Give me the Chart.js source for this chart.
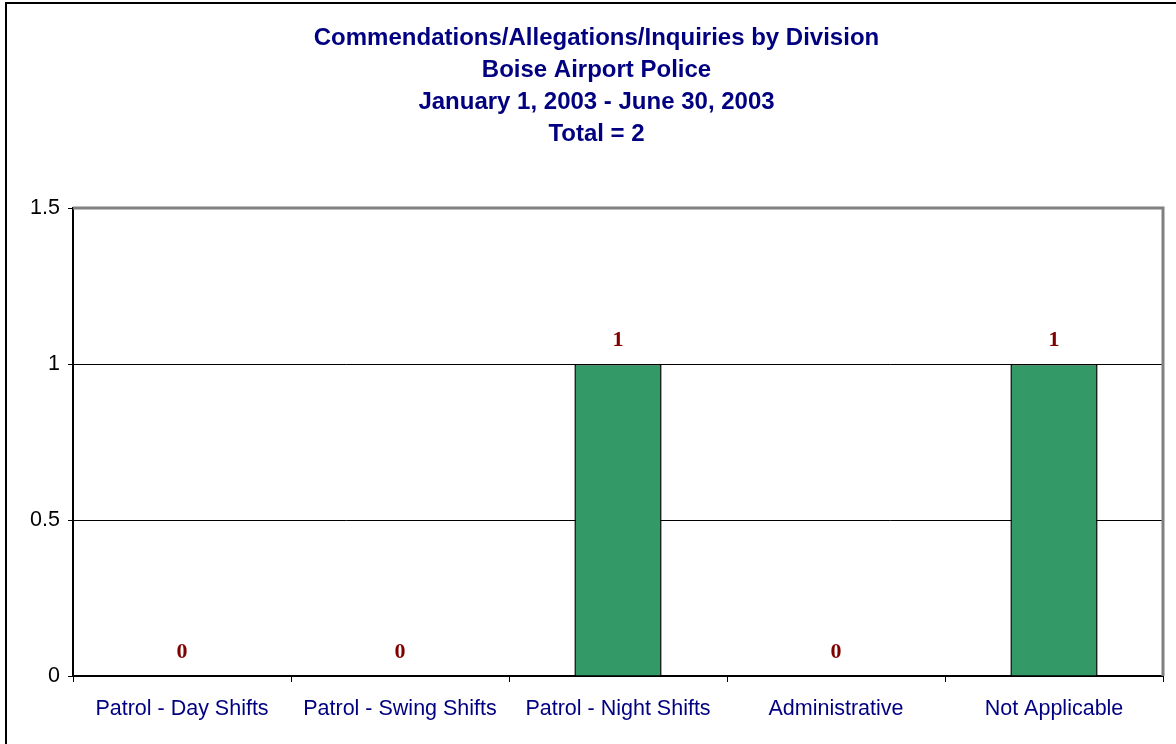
<!DOCTYPE html>
<html>
<head>
<meta charset="utf-8">
<script src="https://cdn.jsdelivr.net/npm/chart.js@4"></script>
<style>
  body { margin: 0; background: #fff; }
  canvas { display: block; }
</style>
</head>
<body>
<canvas id="divChart" width="1176" height="744"></canvas>
<script>
var divisions = ["Patrol - Day Shifts", "Patrol - Swing Shifts", "Patrol - Night Shifts", "Administrative", "Not Applicable"];
var counts = [0, 0, 1, 0, 1];
var titleLines = ["Commendations/Allegations/Inquiries by Division", "Boise Airport Police", "January 1, 2003 - June 30, 2003", "Total = 2"];
var yTicks = [0, 0.5, 1, 1.5];

// outer frame, gray plot border and the value labels
var extras = {
    id: "extras",
    beforeDraw: function(chart) {
        var c = chart.ctx;
        c.save();
        c.fillStyle = "#fff";
        c.fillRect(0, 0, chart.width, chart.height);
        c.fillStyle = "#000";
        c.fillRect(5, 2, 2, chart.height);
        c.fillRect(5, 2, chart.width, 2);
        c.restore();
    },
    afterDatasetsDraw: function(chart) {
        var c = chart.ctx;
        var a = chart.chartArea;
        c.save();
        c.strokeStyle = "#808080";
        c.lineWidth = 3;
        c.beginPath();
        c.moveTo(a.left, a.top);
        c.lineTo(a.right, a.top);
        c.lineTo(a.right, a.bottom);
        c.stroke();

        var meta = chart.getDatasetMeta(0);
        c.fillStyle = "#800000";
        c.font = "bold 22px 'Liberation Serif', 'Times New Roman', serif";
        c.textAlign = "center";
        c.textBaseline = "middle";
        meta.data.forEach(function(bar, i) {
            var y = chart.scales.y.getPixelForValue(counts[i]);
            c.fillText(String(counts[i]), bar.x, y - 24);
        });
        c.restore();
    }
};

var ctx = document.getElementById("divChart");
var chart = new Chart(ctx, {
    type: "bar",
    data: {
        labels: divisions,
        datasets: [{
            data: counts,
            backgroundColor: "#339966",
            borderColor: "#000",
            borderWidth: 1.5,
            barPercentage: 0.4,
            categoryPercentage: 1
        }]
    },
    options: {
        responsive: false,
        animation: false,
        layout: { padding: { top: 0, right: 13, bottom: 0, left: 30 } },
        plugins: {
            legend: { display: false },
            tooltip: { enabled: false },
            title: {
                display: true,
                text: titleLines,
                color: "#000080",
                font: { family: "'Liberation Sans', Arial, sans-serif", size: 24, weight: "bold", lineHeight: 32 / 24 },
                padding: { top: 22, bottom: 58 }
            }
        },
        scales: {
            x: {
                grid: { offset: true, drawOnChartArea: false, drawTicks: true, tickLength: 6, color: "#000", lineWidth: 1 },
                border: { color: "#000", width: 2 },
                ticks: {
                    color: "#000080",
                    font: { family: "'Liberation Sans', Arial, sans-serif", size: 21.5 },
                    padding: 14,
                    maxRotation: 0,
                    autoSkip: false
                },
                afterFit: function(scale) {
                    scale.height = 68;
                    scale.paddingLeft = 0;
                    scale.paddingRight = 0;
                }
            },
            y: {
                min: 0,
                max: 1.5,
                afterBuildTicks: function(scale) {
                    scale.ticks = yTicks.map(function(v) { return { value: v }; });
                },
                grid: { color: "#000", lineWidth: 1, tickLength: 5 },
                border: { color: "#000", width: 2 },
                ticks: {
                    color: "#000",
                    font: { family: "'Liberation Sans', Arial, sans-serif", size: 21.5 },
                    padding: 8,
                    callback: function(v) { return String(v); }
                },
                afterFit: function(scale) {
                    scale.width = 43;
                    scale.paddingTop = 0;
                    scale.paddingBottom = 0;
                }
            }
        }
    },
    plugins: [extras]
});
</script>
</body>
</html>
